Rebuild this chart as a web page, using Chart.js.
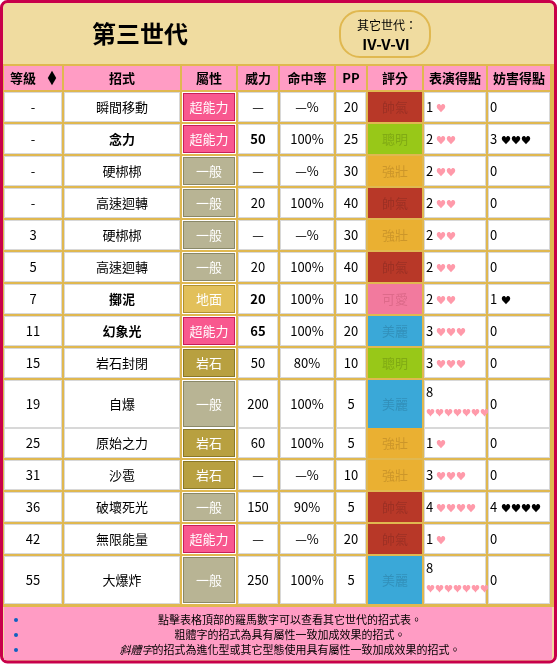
<!DOCTYPE html>
<html lang="zh-Hant">
<head>
<meta charset="UTF-8">
<title>第三世代</title>
<script src="https://cdn.jsdelivr.net/npm/chart.js"></script>
<style>
  body { margin: 0; background: #fff; }
  canvas { display: block; }
</style>
</head>
<body>
<canvas id="tbl" width="557" height="668"></canvas>
<script>
// table data
const headers = ['等級', '招式', '屬性', '威力', '命中率', 'PP', '評分', '表演得點', '妨害得點'];
const levels = ['-', '-', '-', '-', '3', '5', '7', '11', '15', '19', '25', '31', '36', '42', '55'];
const moves = ['瞬間移動', '念力', '硬梆梆', '高速迴轉', '硬梆梆', '高速迴轉', '擲泥', '幻象光', '岩石封閉', '自爆', '原始之力', '沙雹', '破壞死光', '無限能量', '大爆炸'];
const boldMoves = [false, true, false, false, false, false, true, true, false, false, false, false, false, false, false];
const types = ['超能力', '超能力', '一般', '一般', '一般', '一般', '地面', '超能力', '岩石', '一般', '岩石', '岩石', '一般', '超能力', '一般'];
const power = ['—', '50', '—', '20', '—', '20', '20', '65', '50', '200', '60', '—', '150', '—', '250'];
const accuracy = ['—%', '100%', '—%', '100%', '—%', '100%', '100%', '100%', '80%', '100%', '100%', '—%', '90%', '—%', '100%'];
const pp = ['20', '25', '30', '40', '30', '40', '10', '20', '10', '5', '5', '10', '5', '20', '5'];
const categories = ['帥氣', '聰明', '強壯', '帥氣', '強壯', '帥氣', '可愛', '美麗', '聰明', '美麗', '強壯', '強壯', '帥氣', '帥氣', '美麗'];
const appeal = [1, 2, 2, 2, 2, 2, 2, 3, 3, 8, 1, 3, 4, 1, 8];
const jam = [0, 3, 0, 0, 0, 0, 1, 0, 0, 0, 0, 0, 4, 0, 0];
const rowSpan = [1, 1, 1, 1, 1, 1, 1, 1, 1, 1.5, 1, 1, 1, 1, 1.5];

const typeColor = { '超能力': '#f8588f', '一般': '#b8b494', '地面': '#e2c05a', '岩石': '#b8a040' };
const typeBorder = { '超能力': '#c81e5a', '一般': '#8a8868', '地面': '#b09030', '岩石': '#8a7828' };
const catColor = { '帥氣': '#b83828', '聰明': '#98c818', '強壯': '#eab032', '可愛': '#f27a9e', '美麗': '#3aa8d8' };
const catText = { '帥氣': '#9c3024', '聰明': '#80aa14', '強壯': '#cc962a', '可愛': '#dd6a8a', '美麗': '#3290ba' };

const colEdges = [4, 64, 182, 238, 280, 336, 368, 424, 488, 552];
const font = '"Noto Sans CJK TC", "Noto Sans", sans-serif';

const tablePlugin = {
  id: 'tablePlugin',
  afterDraw(chart) {
    const ctx = chart.ctx;
    const xs = chart.scales.x, ys = chart.scales.y;
    const X = v => xs.getPixelForValue(v);
    const Y = v => ys.getPixelForValue(v);
    ctx.save();
    // frame
    ctx.fillStyle = '#f0dca0';
    ctx.strokeStyle = '#c8004a';
    ctx.lineWidth = 3;
    ctx.beginPath();
    ctx.roundRect(X(1.5), Y(1.5), X(555.5) - X(1.5), Y(662) - Y(1.5), 6);
    ctx.fill(); ctx.stroke();
    // title
    ctx.fillStyle = '#000';
    ctx.font = 'bold 24px ' + font;
    ctx.textAlign = 'center'; ctx.textBaseline = 'middle';
    ctx.fillText('第三世代', X(140), Y(34));
    ctx.strokeStyle = '#e0b850'; ctx.lineWidth = 2;
    ctx.beginPath();
    ctx.roundRect(X(340), Y(11), 90, 46, 20);
    ctx.stroke();
    ctx.font = '12px ' + font;
    ctx.fillText('其它世代：', X(387), Y(25));
    ctx.font = 'bold 15px ' + font;
    ctx.fillText('IV-V-VI', X(386), Y(44));
    // gold separator background for table
    ctx.fillStyle = '#e0b850';
    ctx.fillRect(X(3), Y(64), X(554) - X(3), Y(607) - Y(64));
    // header
    ctx.font = 'bold 13px ' + font;
    headers.forEach((h, i) => {
      const x0 = X(colEdges[i]) , x1 = X(colEdges[i + 1]) - 2;
      ctx.fillStyle = '#ff9cc4';
      ctx.fillRect(x0, Y(66), x1 - x0, Y(90) - Y(66));
      ctx.fillStyle = '#000';
      ctx.fillText(h, (x0 + x1) / 2 - (i === 0 ? 10 : 0), Y(78.5));
    });
    ctx.font = '9px ' + font;
    ctx.fillText('▲', X(52), Y(74.5));
    ctx.fillText('▼', X(52), Y(81.5));
    // rows
    let yTop = 92;
    levels.forEach((lv, r) => {
      const h = 32 * rowSpan[r] - 2 + (rowSpan[r] > 1 ? 2 : 0);
      const y0 = Y(yTop), y1 = Y(yTop + h);
      const cy = (y0 + y1) / 2;
      for (let c = 0; c < 9; c++) {
        const x0 = X(colEdges[c]), x1 = X(colEdges[c + 1]) - 2;
        const cx = (x0 + x1) / 2;
        if (c === 2) {
          ctx.fillStyle = '#fff';
          ctx.fillRect(x0, y0, x1 - x0, y1 - y0);
          ctx.fillStyle = typeColor[types[r]];
          ctx.fillRect(x0 + 1, y0 + 1, x1 - x0 - 2, y1 - y0 - 2);
          ctx.strokeStyle = typeBorder[types[r]]; ctx.lineWidth = 1;
          ctx.strokeRect(x0 + 1.5, y0 + 1.5, x1 - x0 - 3, y1 - y0 - 3);
          ctx.fillStyle = '#fff'; ctx.font = '13px ' + font; ctx.textAlign = 'center';
          ctx.fillText(types[r], cx, cy);
          continue;
        }
        if (c === 6) {
          ctx.fillStyle = catColor[categories[r]];
          ctx.fillRect(x0, y0, x1 - x0, y1 - y0);
          ctx.fillStyle = catText[categories[r]]; ctx.font = '13px ' + font; ctx.textAlign = 'center';
          ctx.fillText(categories[r], cx, cy);
          continue;
        }
        ctx.fillStyle = '#fff';
        ctx.fillRect(x0, y0, x1 - x0, y1 - y0);
        ctx.strokeStyle = '#d8d8d8'; ctx.lineWidth = 1;
        ctx.strokeRect(x0 + 0.5, y0 + 0.5, x1 - x0 - 1, y1 - y0 - 1);
        ctx.fillStyle = '#000'; ctx.textAlign = 'center';
        const bold = boldMoves[r] && (c === 1 || c === 3);
        ctx.font = (bold ? 'bold ' : '') + '13px ' + font;
        if (c === 0) ctx.fillText(lv, cx, cy);
        if (c === 1) ctx.fillText(moves[r], cx, cy);
        if (c === 3) ctx.fillText(power[r], cx, cy);
        if (c === 4) ctx.fillText(accuracy[r], cx, cy);
        if (c === 5) ctx.fillText(pp[r], cx, cy);
        if (c === 7) {
          ctx.textAlign = 'left';
          const hearts = '♥'.repeat(appeal[r]);
          if (appeal[r] > 4) {
            ctx.fillText(String(appeal[r]), x0 + 2, y0 + 12);
            ctx.fillStyle = '#ff9aaa'; ctx.font = '9px ' + font;
            ctx.fillText(hearts, x0 + 2, y0 + 33);
          } else {
            ctx.fillText(String(appeal[r]), x0 + 2, cy);
            ctx.fillStyle = '#ff9aaa'; ctx.font = '10px ' + font;
            ctx.fillText(hearts, x0 + 12, cy + 1);
          }
        }
        if (c === 8) {
          ctx.textAlign = 'left';
          ctx.fillText(String(jam[r]), x0 + 2, cy);
          if (jam[r] > 0) {
            ctx.font = '10px ' + font;
            ctx.fillText('♥'.repeat(jam[r]), x0 + 13, cy + 1);
          }
        }
      }
      yTop += 32 * rowSpan[r] + (rowSpan[r] > 1 ? 0 : 0);
    });
    // footer
    ctx.fillStyle = '#ff9cc4';
    ctx.fillRect(X(4), Y(607), X(552) - X(4), Y(660) - Y(607));
    ctx.font = '11px ' + font; ctx.textAlign = 'center'; ctx.fillStyle = '#000';
    ctx.fillText('點擊表格頂部的羅馬數字可以查看其它世代的招式表。', X(290), Y(620));
    ctx.fillText('粗體字的招式為具有屬性一致加成效果的招式。', X(290), Y(635));
    ctx.textAlign = 'left';
    ctx.font = 'italic 11px ' + font;
    const line3a = '斜體字';
    ctx.font = '11px ' + font;
    const line3b = '的招式為進化型或其它型態使用具有屬性一致加成效果的招式。';
    const wA = ctx.measureText(line3a).width, wB = ctx.measureText(line3b).width;
    const sx = X(290) - (wA + wB) / 2;
    ctx.font = 'italic 11px ' + font;
    ctx.fillText(line3a, sx, Y(650));
    ctx.font = '11px ' + font;
    ctx.fillText(line3b, sx + wA, Y(650));
    ctx.fillStyle = '#1060c0';
    [620, 635, 650].forEach(v => { ctx.beginPath(); ctx.arc(X(16), Y(v), 2, 0, Math.PI * 2); ctx.fill(); });
    ctx.restore();
  }
};

new Chart(document.getElementById('tbl'), {
  type: 'scatter',
  data: { datasets: [{ data: [], pointRadius: 0 }] },
  options: {
    responsive: false,
    animation: false,
    layout: { padding: 0 },
    plugins: { legend: { display: false }, tooltip: { enabled: false } },
    scales: {
      x: { type: 'linear', min: 0, max: 557, display: false },
      y: { type: 'linear', min: 0, max: 668, reverse: true, display: false }
    }
  },
  plugins: [tablePlugin]
});
</script>
</body>
</html>
